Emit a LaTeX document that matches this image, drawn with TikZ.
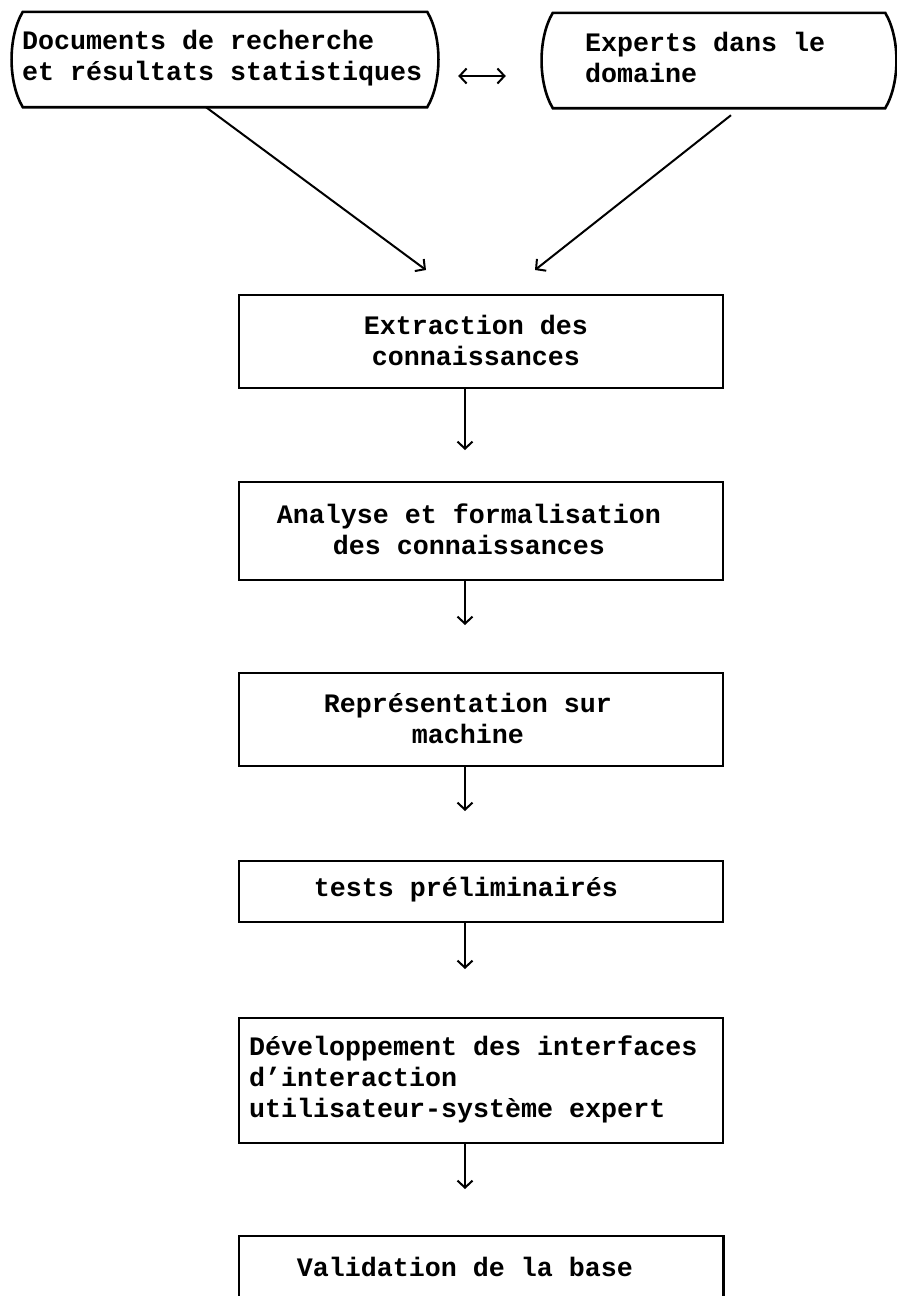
\documentclass[tikz,border=0pt]{standalone}
\usepackage{fontspec}
\newfontfamily\tw{Liberation Mono}
\usetikzlibrary{arrows.meta,calc}
\tikzset{
  box/.style={draw, line width=2.6pt, minimum width=484pt, inner sep=0pt},
  ghost/.style={inner sep=0pt},
  lbl/.style={font=\tw\bfseries\fontsize{26.67}{31}\selectfont, inner sep=0pt},
  flow/.style={line width=2pt, -{Straight Barb[length=7pt,width=15pt]}},
  frame/.style={line width=2.6pt},
}
\begin{document}
\begin{tikzpicture}[x=1pt,y=-1pt]
\useasboundingbox (0,0) rectangle (897,1296);
% top boxes
\node[ghost, minimum width=428pt, minimum height=95pt] (doc) at (225,59.5) {};
\draw[frame] ([xshift=12pt]doc.north west) -- ([xshift=-12pt]doc.north east)
  .. controls ([xshift=3pt,yshift=-25pt]doc.north east) and ([xshift=3pt,yshift=25pt]doc.south east) .. ([xshift=-12pt]doc.south east)
  -- ([xshift=12pt]doc.south west)
  .. controls ([xshift=-3pt,yshift=25pt]doc.south west) and ([xshift=-3pt,yshift=-25pt]doc.north west) .. cycle;
\node[lbl, align=left, anchor=west] (doct) at (22,58) {Documents de recherche\\et résultats statistiques};

\node[ghost, minimum width=356pt, minimum height=95pt] (exp) at (719,60.5) {};
\draw[frame] ([xshift=12pt]exp.north west) -- ([xshift=-12pt]exp.north east)
  .. controls ([xshift=3pt,yshift=-25pt]exp.north east) and ([xshift=3pt,yshift=25pt]exp.south east) .. ([xshift=-12pt]exp.south east)
  -- ([xshift=12pt]exp.south west)
  .. controls ([xshift=-3pt,yshift=25pt]exp.south west) and ([xshift=-3pt,yshift=-25pt]exp.north west) .. cycle;
\node[lbl, align=left, anchor=west] (expt) at (585,57) {Experts dans le\\domaine};

\draw[line width=2pt, {Straight Barb[length=7pt,width=15pt]}-{Straight Barb[length=7pt,width=15pt]}]
  ([xshift=19pt,yshift=-16.5pt]doc.east) -- ([xshift=-35pt,yshift=-15.5pt]exp.west);

% flow boxes
\node[box, minimum height=93pt] (ext) at (481,341.5) {};
\node[lbl, align=center] (extt) at (476,340) {Extraction des\\connaissances};
\node[box, minimum height=98pt] (ana) at (481,531) {};
\node[lbl, align=center] (anat) at (469,529.5) {Analyse et formalisation\\des connaissances};
\node[box, minimum height=93pt] (rep) at (481,719.5) {};
\node[lbl, align=center] (rept) at (468,718) {Représentation sur\\machine};
\node[box, minimum height=61pt] (tst) at (481,891.5) {};
\node[lbl] (tstt) at (466,890) {tests préliminairés};
\node[box, minimum height=125pt] (dev) at (481,1080.5) {};
\node[lbl, align=left, anchor=west] (devt) at (249,1079) {Développement des interfaces\\d’interaction\\utilisateur-système expert};
\node[ghost, minimum width=484pt, minimum height=120pt] (val) at (481,1296) {};
\draw[frame] (val.west) -- (val.north west) -- (val.north east) -- (val.east);
\node[lbl] (valt) at (465,1267) {Validation de la base};

% connectors
\coordinate (d1) at (426,270);
\coordinate (d2) at (535,270);
\draw[flow] ([xshift=-19pt]doc.south) -- (d1);
\draw[flow] ([xshift=12pt,yshift=-7pt]exp.south) -- (d2);
\coordinate (a1) at (465,450);
\coordinate (a2) at (465,625);
\coordinate (a3) at (465,811);
\coordinate (a4) at (465,969);
\coordinate (a5) at (465,1189);
\draw[flow] (a1 |- ext.south) -- (a1);
\draw[flow] (a2 |- ana.south) -- (a2);
\draw[flow] (a3 |- rep.south) -- (a3);
\draw[flow] (a4 |- tst.south) -- (a4);
\draw[flow] (a5 |- dev.south) -- (a5);
\end{tikzpicture}
\end{document}
